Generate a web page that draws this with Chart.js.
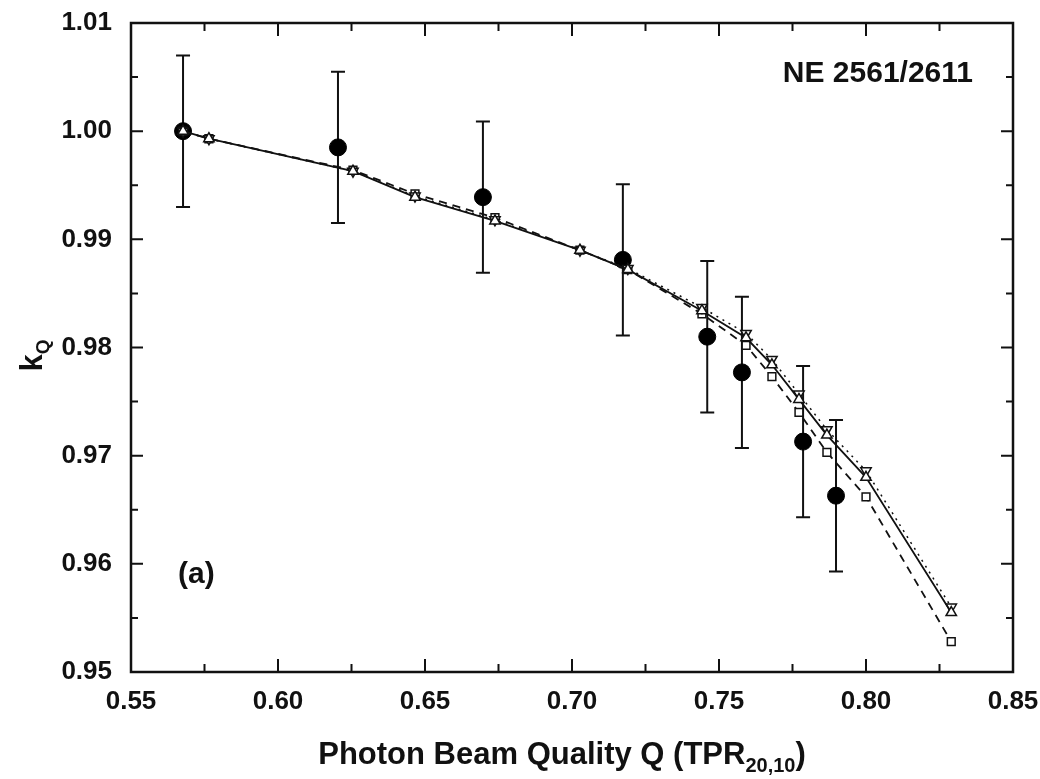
<!DOCTYPE html>
<html>
<head>
<meta charset="utf-8">
<script src="https://cdn.jsdelivr.net/npm/chart.js@4.4.1/dist/chart.umd.min.js"></script>
<style>
  body { margin: 0; background: #fff; }
  #wrap { width: 1040px; height: 779px; }
</style>
</head>
<body>
<div id="wrap"><canvas id="c" width="1040" height="779"></canvas></div>
<script>
// beam quality values (TPR20,10) of the calculated curves
const qCalc = [0.5677, 0.5765, 0.6255, 0.6466, 0.6738, 0.7027, 0.7190, 0.7442, 0.7592, 0.7680, 0.7772, 0.7867, 0.8000, 0.8290];
const kSolid  = [1.0000, 0.9993, 0.9963, 0.9939, 0.9917, 0.9890, 0.9872, 0.9834, 0.9809, 0.9784, 0.9752, 0.9719, 0.9680, 0.9555];
const kDotted = [1.0000, 0.9993, 0.9963, 0.9940, 0.9918, 0.9890, 0.9873, 0.9837, 0.9813, 0.9789, 0.9757, 0.9724, 0.9686, 0.9560];
const kDashed = [1.0000, 0.9993, 0.9964, 0.9942, 0.9920, 0.9890, 0.9872, 0.9831, 0.9802, 0.9773, 0.9740, 0.9703, 0.9662, 0.9528];

// measured values with uncertainty
const qMeas = [0.5677, 0.6204, 0.6697, 0.7173, 0.7460, 0.7578, 0.7786, 0.7898];
const kMeas = [1.0000, 0.9985, 0.9939, 0.9881, 0.9810, 0.9777, 0.9713, 0.9663];
const kErr  = [0.007, 0.007, 0.007, 0.007, 0.007, 0.007, 0.007, 0.007];

const xTicks = [0.55, 0.60, 0.65, 0.70, 0.75, 0.80, 0.85];
const yTicks = [0.95, 0.96, 0.97, 0.98, 0.99, 1.00, 1.01];
const xMinor = [0.575, 0.625, 0.675, 0.725, 0.775, 0.825];
const yMinor = [0.955, 0.965, 0.975, 0.985, 0.995, 1.005];

const FONT = '"Liberation Sans", Arial, Helvetica, sans-serif';

const pts = (xs, ys) => xs.map((x, i) => ({ x, y: ys[i] }));

// error bars under the filled circles
const errorBars = {
  id: 'errorBars',
  beforeDatasetsDraw(chart) {
    const { ctx, scales: { x, y } } = chart;
    ctx.save();
    ctx.strokeStyle = '#111';
    ctx.lineWidth = 2;
    qMeas.forEach((q, i) => {
      const px = x.getPixelForValue(q);
      const top = y.getPixelForValue(kMeas[i] + kErr[i]);
      const bot = y.getPixelForValue(kMeas[i] - kErr[i]);
      ctx.beginPath();
      ctx.moveTo(px, top); ctx.lineTo(px, bot);
      ctx.moveTo(px - 7, top); ctx.lineTo(px + 7, top);
      ctx.moveTo(px - 7, bot); ctx.lineTo(px + 7, bot);
      ctx.stroke();
    });
    ctx.restore();
  }
};

// box frame, inward ticks, titles and labels
const frame = {
  id: 'frame',
  afterDraw(chart) {
    const { ctx, chartArea: a, scales: { x, y } } = chart;
    ctx.save();
    ctx.strokeStyle = '#111';
    ctx.lineWidth = 2.5;
    ctx.strokeRect(a.left, a.top, a.right - a.left, a.bottom - a.top);

    ctx.lineWidth = 2;
    ctx.beginPath();
    const tx = (v, len) => {
      const p = x.getPixelForValue(v);
      ctx.moveTo(p, a.bottom); ctx.lineTo(p, a.bottom - len);
      ctx.moveTo(p, a.top); ctx.lineTo(p, a.top + len);
    };
    const ty = (v, len) => {
      const p = y.getPixelForValue(v);
      ctx.moveTo(a.left, p); ctx.lineTo(a.left + len, p);
      ctx.moveTo(a.right, p); ctx.lineTo(a.right - len, p);
    };
    xTicks.forEach(v => tx(v, 13));
    xMinor.forEach(v => tx(v, 8));
    yTicks.forEach(v => ty(v, 12));
    yMinor.forEach(v => ty(v, 7));
    ctx.stroke();

    ctx.fillStyle = '#111';
    ctx.textBaseline = 'alphabetic';

    // x title with subscript
    const main = 'Photon Beam Quality Q (TPR';
    const sub = '20,10';
    ctx.font = 'bold 31px ' + FONT;
    const wMain = ctx.measureText(main).width;
    const wClose = ctx.measureText(')').width;
    ctx.font = 'bold 20px ' + FONT;
    const wSub = ctx.measureText(sub).width;
    const total = wMain + wSub + wClose;
    let sx = (a.left + a.right) / 2 - total / 2 - 10;
    const by = 764;
    ctx.font = 'bold 31px ' + FONT;
    ctx.textAlign = 'left';
    ctx.fillText(main, sx, by);
    ctx.font = 'bold 20px ' + FONT;
    ctx.fillText(sub, sx + wMain, by + 8);
    ctx.font = 'bold 31px ' + FONT;
    ctx.fillText(')', sx + wMain + wSub, by);

    // y title k_Q rotated
    ctx.save();
    ctx.translate(42, (a.top + a.bottom) / 2 + 8);
    ctx.rotate(-Math.PI / 2);
    ctx.font = 'bold 31px ' + FONT;
    const wk = ctx.measureText('k').width;
    ctx.font = 'bold 19px ' + FONT;
    const wq = ctx.measureText('Q').width;
    const st = -(wk + wq) / 2;
    ctx.font = 'bold 31px ' + FONT;
    ctx.fillText('k', st, 0);
    ctx.font = 'bold 19px ' + FONT;
    ctx.fillText('Q', st + wk, 7);
    ctx.restore();

    // panel labels
    ctx.font = 'bold 30px ' + FONT;
    ctx.textBaseline = 'middle';
    ctx.textAlign = 'right';
    ctx.fillText('NE 2561/2611', x.getPixelForValue(0.8364), y.getPixelForValue(1.0053));
    ctx.textAlign = 'left';
    ctx.fillText('(a)', x.getPixelForValue(0.5660), y.getPixelForValue(0.9590));
    ctx.restore();
  }
};

new Chart(document.getElementById('c'), {
  type: 'scatter',
  data: {
    datasets: [
      {
        label: 'solid', data: pts(qCalc, kSolid), showLine: true,
        borderColor: '#111', borderWidth: 1.8, backgroundColor: '#fff',
        pointStyle: 'triangle', pointRadius: 6, pointBorderWidth: 1.5, tension: 0
      },
      {
        label: 'dotted', data: pts(qCalc, kDotted), showLine: true,
        borderColor: '#111', borderWidth: 1.5, borderDash: [2, 5], backgroundColor: '#fff',
        pointStyle: 'triangle', pointRotation: 180, pointRadius: 6, pointBorderWidth: 1.5, tension: 0
      },
      {
        label: 'dashed', data: pts(qCalc, kDashed), showLine: true,
        borderColor: '#111', borderWidth: 1.8, borderDash: [8, 6], backgroundColor: '#fff',
        pointStyle: 'rect', pointRadius: 5.5, pointBorderWidth: 1.5, tension: 0
      },
      {
        label: 'measured', data: pts(qMeas, kMeas), showLine: false,
        borderColor: '#000', backgroundColor: '#000',
        pointStyle: 'circle', pointRadius: 8.5, pointBorderWidth: 1
      }
    ]
  },
  options: {
    responsive: false,
    animation: false,
    events: [],
    layout: { padding: { left: 0, right: 27, top: 23, bottom: 0 } },
    plugins: { legend: { display: false }, tooltip: { enabled: false } },
    scales: {
      x: {
        type: 'linear', min: 0.55, max: 0.85,
        afterFit: s => { s.height = 107; s.paddingLeft = 0; s.paddingRight = 0; },
        afterBuildTicks: s => { s.ticks = xTicks.map(v => ({ value: v })); },
        grid: { display: false, drawTicks: false },
        border: { display: false },
        ticks: {
          padding: 14, color: '#111', maxRotation: 0,
          font: { family: FONT, size: 26, weight: 'bold' },
          callback: v => v.toFixed(2)
        }
      },
      y: {
        type: 'linear', min: 0.95, max: 1.01,
        afterFit: s => { s.width = 131; s.paddingTop = 0; s.paddingBottom = 0; },
        afterBuildTicks: s => { s.ticks = yTicks.map(v => ({ value: v })); },
        grid: { display: false, drawTicks: false },
        border: { display: false },
        ticks: {
          padding: 19, color: '#111',
          font: { family: FONT, size: 26, weight: 'bold' },
          callback: v => v.toFixed(2)
        }
      }
    }
  },
  plugins: [errorBars, frame]
});
</script>
</body>
</html>
